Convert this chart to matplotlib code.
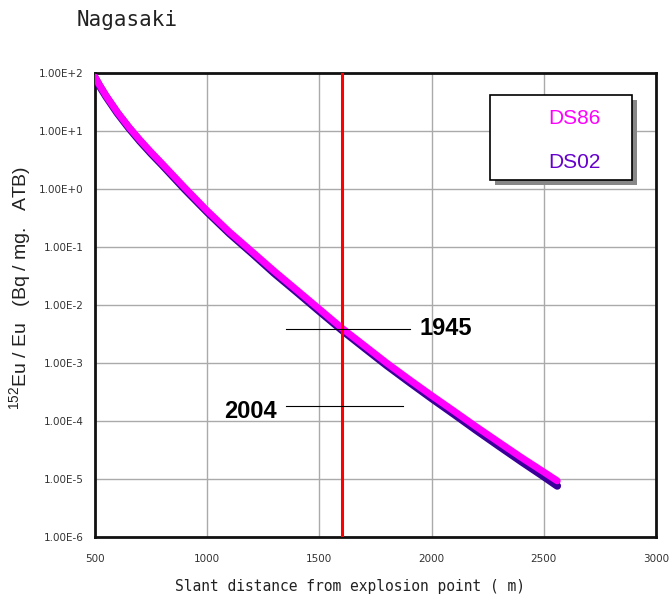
import numpy as np
import matplotlib
matplotlib.use("Agg")
import matplotlib.pyplot as plt
from matplotlib.patches import Rectangle

plt.rcParams['mathtext.fontset'] = 'custom'
plt.rcParams['mathtext.rm'] = 'Liberation Sans'
plt.rcParams['mathtext.default'] = 'regular'

# slant distance (m)
distance = [500, 520, 550, 600, 650, 700, 750, 800, 900, 1000, 1100, 1200,
            1300, 1400, 1500, 1600, 1700, 1800, 1900, 2000, 2100, 2200, 2300,
            2400, 2500, 2560]
# 152Eu/Eu (Bq/mg ATB)
ds86 = [85, 62, 40, 21, 11.8, 7.0, 4.3, 2.7, 1.05, 0.42, 0.18, 0.083, 0.038,
        0.018, 0.0085, 0.0040, 0.0020, 0.0010, 5.2e-4, 2.75e-4, 1.48e-4,
        7.9e-5, 4.3e-5, 2.35e-5, 1.32e-5, 9.3e-6]
ds02 = [83, 60, 39, 20.3, 11.4, 6.7, 4.1, 2.58, 0.99, 0.40, 0.17, 0.078,
        0.035, 0.0166, 0.0078, 0.0037, 0.00183, 9.1e-4, 4.7e-4, 2.46e-4,
        1.31e-4, 6.9e-5, 3.7e-5, 2.0e-5, 1.1e-5, 7.6e-6]

xticks = [500, 1000, 1500, 2000, 2500, 3000]
yticks = [1e-6, 1e-5, 1e-4, 1e-3, 1e-2, 1e-1, 1e0, 1e1, 1e2]
ytick_labels = ["1.00E-6", "1.00E-5", "1.00E-4", "1.00E-3", "1.00E-2",
                "1.00E-1", "1.00E+0", "1.00E+1", "1.00E+2"]

# annotation marks: (x start, x end, level)
marks_1945 = (1350, 1902, 3.9e-3)
marks_2004 = (1350, 1871, 1.8e-4)
sampling_point = 1600

fig = plt.figure(figsize=(6.7, 5.97), dpi=100)
ax = fig.add_axes([0.1418, 0.1005, 0.8373, 0.7772])

ax.set_yscale('log')
ax.set_xlim(500, 3000)
ax.set_ylim(1e-6, 1e2)

ax.plot(distance, ds02, color='#3A0099', lw=5.5, solid_capstyle='round',
        solid_joinstyle='round', zorder=3)
ax.plot(distance, ds86, color='#FF00FF', lw=5.0, solid_capstyle='round',
        solid_joinstyle='round', zorder=4)

ax.axvline(sampling_point, color='#FF0000', lw=2.2, zorder=5)

ax.plot(marks_1945[:2], [marks_1945[2]] * 2, color='black', lw=0.8, zorder=6)
ax.plot(marks_2004[:2], [marks_2004[2]] * 2, color='black', lw=0.8, zorder=6)
ax.text(1945, marks_1945[2], "1945", fontsize=17, fontweight='bold',
        family='Liberation Sans', va='center', ha='left')
ax.text(1310, marks_2004[2] * 0.8, "2004", fontsize=17, fontweight='bold',
        family='Liberation Sans', va='center', ha='right')

ax.set_xticks(xticks)
ax.set_xticklabels([str(t) for t in xticks])
ax.set_yticks(yticks)
ax.set_yticklabels(ytick_labels)
ax.minorticks_off()
ax.tick_params(length=0, labelsize=7.5, labelcolor='#333333')
ax.tick_params(axis='x', pad=12)
ax.tick_params(axis='y', pad=8)

ax.grid(True, color='#AAAAAA', lw=1.0)
for s in ax.spines.values():
    s.set_linewidth(2)
    s.set_color('#111111')

# legend box with shadow
ax.add_patch(Rectangle((0.713, 0.758), 0.253, 0.184, transform=ax.transAxes,
                       facecolor='#888888', edgecolor='none', zorder=7))
ax.add_patch(Rectangle((0.704, 0.769), 0.253, 0.184, transform=ax.transAxes,
                       facecolor='white', edgecolor='black', lw=1.2, zorder=8))
ax.text(0.855, 0.903, "DS86", transform=ax.transAxes, color='#FF00FF',
        fontsize=15, family='Liberation Sans', ha='center', va='center', zorder=9)
ax.text(0.855, 0.808, "DS02", transform=ax.transAxes, color='#6600CC',
        fontsize=15, family='Liberation Sans', ha='center', va='center', zorder=9)

ax.set_xlabel("Slant distance from explosion point ( m)", family='DejaVu Sans Mono',
              fontsize=10.5, color='#222222')
ax.xaxis.set_label_coords(0.455, -0.09)
ax.set_ylabel("$^{152}$Eu / Eu   (Bq / mg.   ATB)", family='Liberation Sans',
              fontsize=14, color='#222222')
ax.yaxis.set_label_coords(-0.11, 0.537)

fig.text(77 / 670, 1 - 20 / 597, "Nagasaki", family='DejaVu Sans Mono',
         fontsize=15, color='#222222', ha='left', va='center')

fig.savefig("out.png", dpi=100)
